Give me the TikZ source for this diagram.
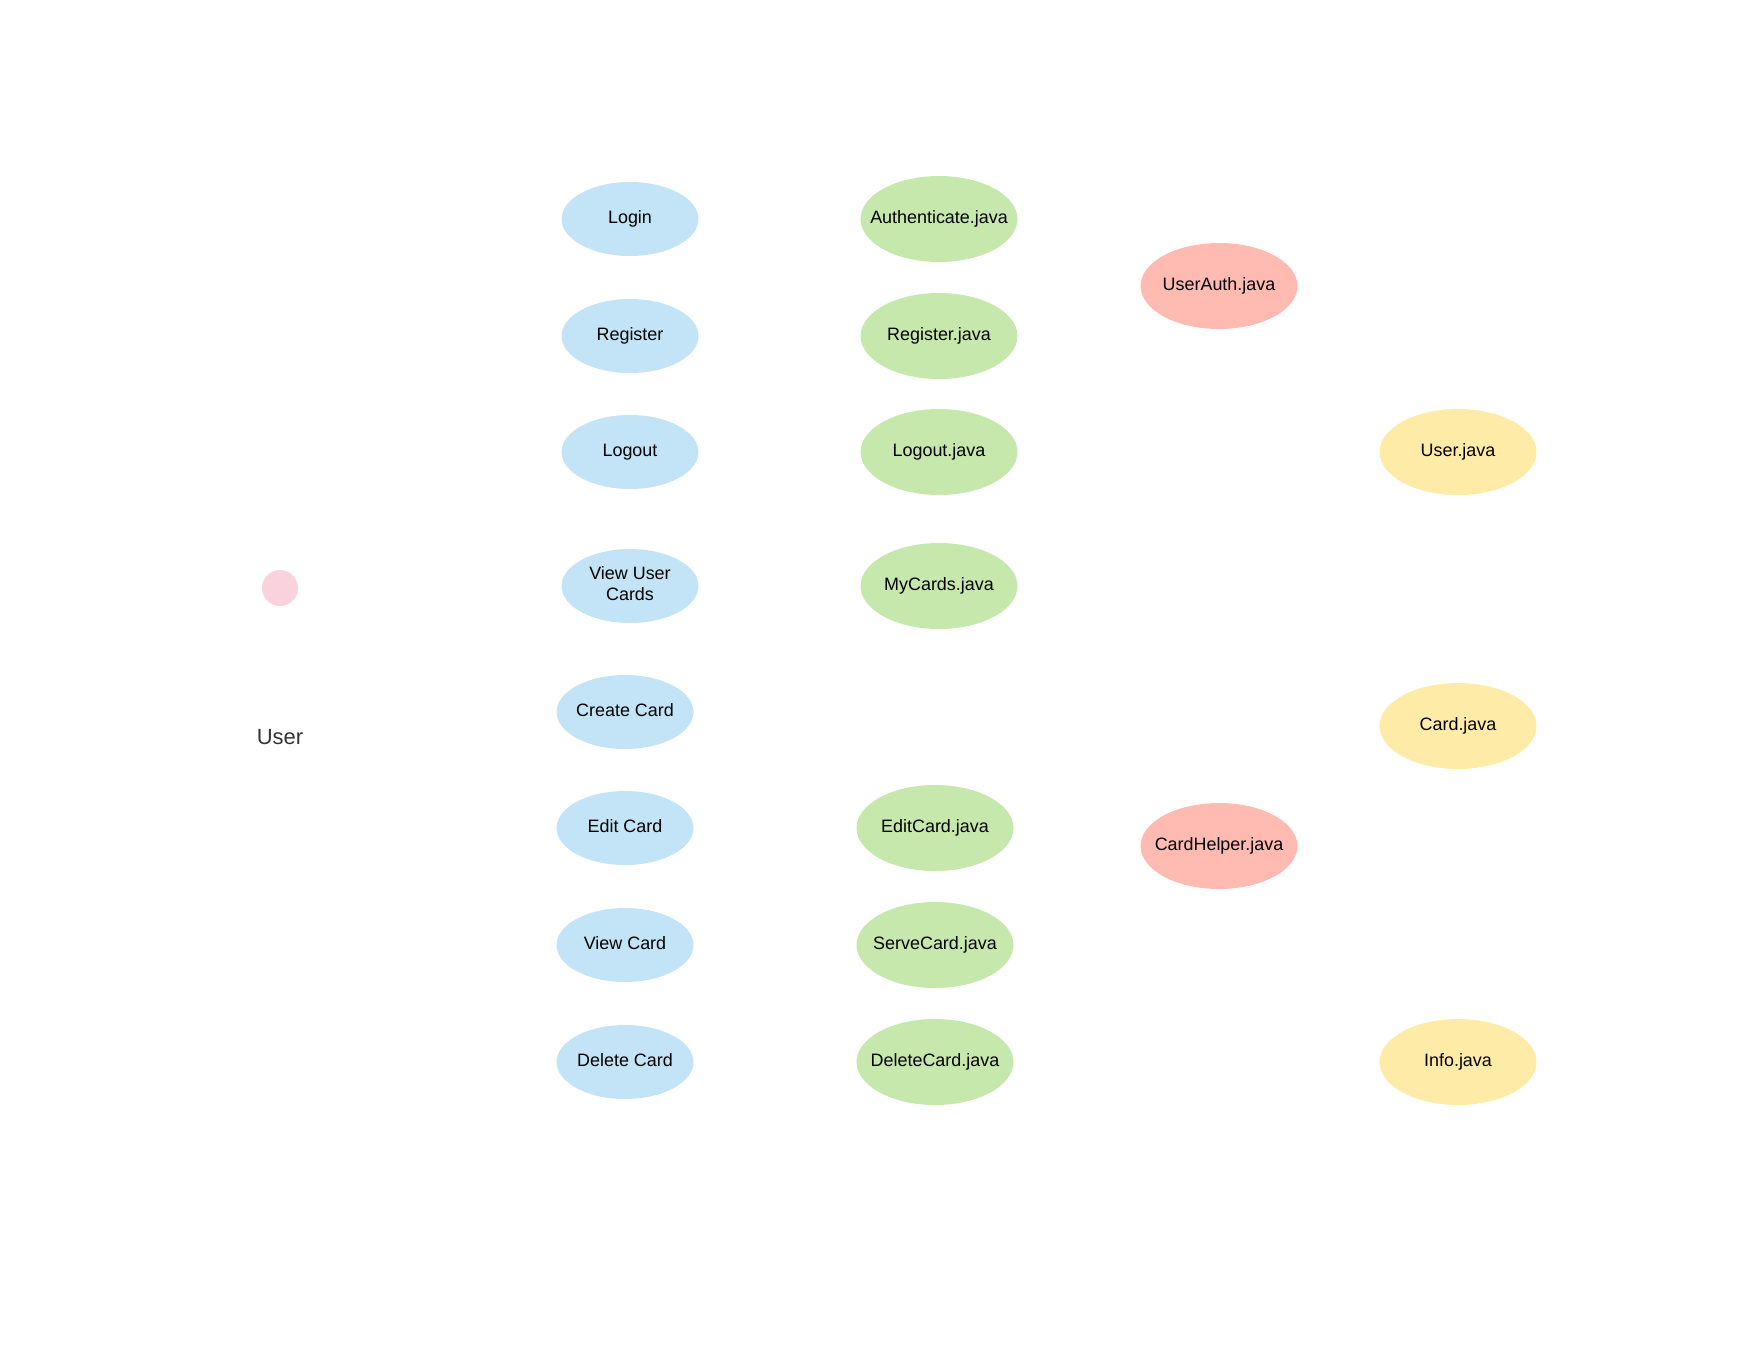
\documentclass[tikz,border=0pt]{standalone}
\usepackage{fontspec}
\setmainfont{Liberation Sans}
\definecolor{caseblue}{HTML}{C2E4F6}
\definecolor{servgreen}{HTML}{C7E8AC}
\definecolor{helpred}{HTML}{FFBBB1}
\definecolor{modelyellow}{HTML}{FFEBA8}
\definecolor{actorpink}{HTML}{F9D2DE}
\definecolor{actortext}{HTML}{333333}
\newcommand\ovaltext[1]{\makebox[0pt]{\begin{tabular}{@{}c@{}}#1\end{tabular}}}
\tikzset{
	usecase/.style={ellipse,fill=caseblue,minimum width=27.4mm,minimum height=14.8mm,inner sep=0pt,font=\fontsize{10.2}{12}\selectfont},
	servlet/.style={ellipse,fill=servgreen,minimum width=31.4mm,minimum height=17.2mm,inner sep=0pt,font=\fontsize{10.2}{12}\selectfont},
	helper/.style={servlet,fill=helpred},
	model/.style={servlet,fill=modelyellow}
}
\usetikzlibrary{shapes.geometric}
\begin{document}
\begin{tikzpicture}[x=0.2mm,y=-0.2mm]
	\useasboundingbox(0,0)rectangle(1760,1358);
	\fill[actorpink](280,588)circle(18)coordinate(actor);
	\node[text=actortext,font=\fontsize{12.5}{15}\selectfont](user)at(280,737){User};
	\node[usecase](login)at(630,219){\ovaltext{Login}};
	\node[usecase](register)at(630,336){\ovaltext{Register}};
	\node[usecase](logout)at(630,452){\ovaltext{Logout}};
	\node[usecase](viewusercards)at(630,586){\ovaltext{View User\\Cards}};
	\node[usecase](createcard)at(625,712){\ovaltext{Create Card}};
	\node[usecase](editcard)at(625,828){\ovaltext{Edit Card}};
	\node[usecase](viewcard)at(625,945){\ovaltext{View Card}};
	\node[usecase](deletecard)at(625,1062){\ovaltext{Delete Card}};
	\node[servlet](authjava)at(939,219){\ovaltext{Authenticate.java}};
	\node[servlet](registerjava)at(939,336){\ovaltext{Register.java}};
	\node[servlet](logoutjava)at(939,452){\ovaltext{Logout.java}};
	\node[servlet](mycardsjava)at(939,586){\ovaltext{MyCards.java}};
	\node[servlet](editcardjava)at(935,828){\ovaltext{EditCard.java}};
	\node[servlet](servecardjava)at(935,945){\ovaltext{ServeCard.java}};
	\node[servlet](deletecardjava)at(935,1062){\ovaltext{DeleteCard.java}};
	\node[helper](userauthjava)at(1219,286){\ovaltext{UserAuth.java}};
	\node[helper](cardhelperjava)at(1219,846){\ovaltext{CardHelper.java}};
	\node[model](userjava)at(1458,452){\ovaltext{User.java}};
	\node[model](cardjava)at(1458,726){\ovaltext{Card.java}};
	\node[model](infojava)at(1458,1062){\ovaltext{Info.java}};
\end{tikzpicture}
\end{document}
